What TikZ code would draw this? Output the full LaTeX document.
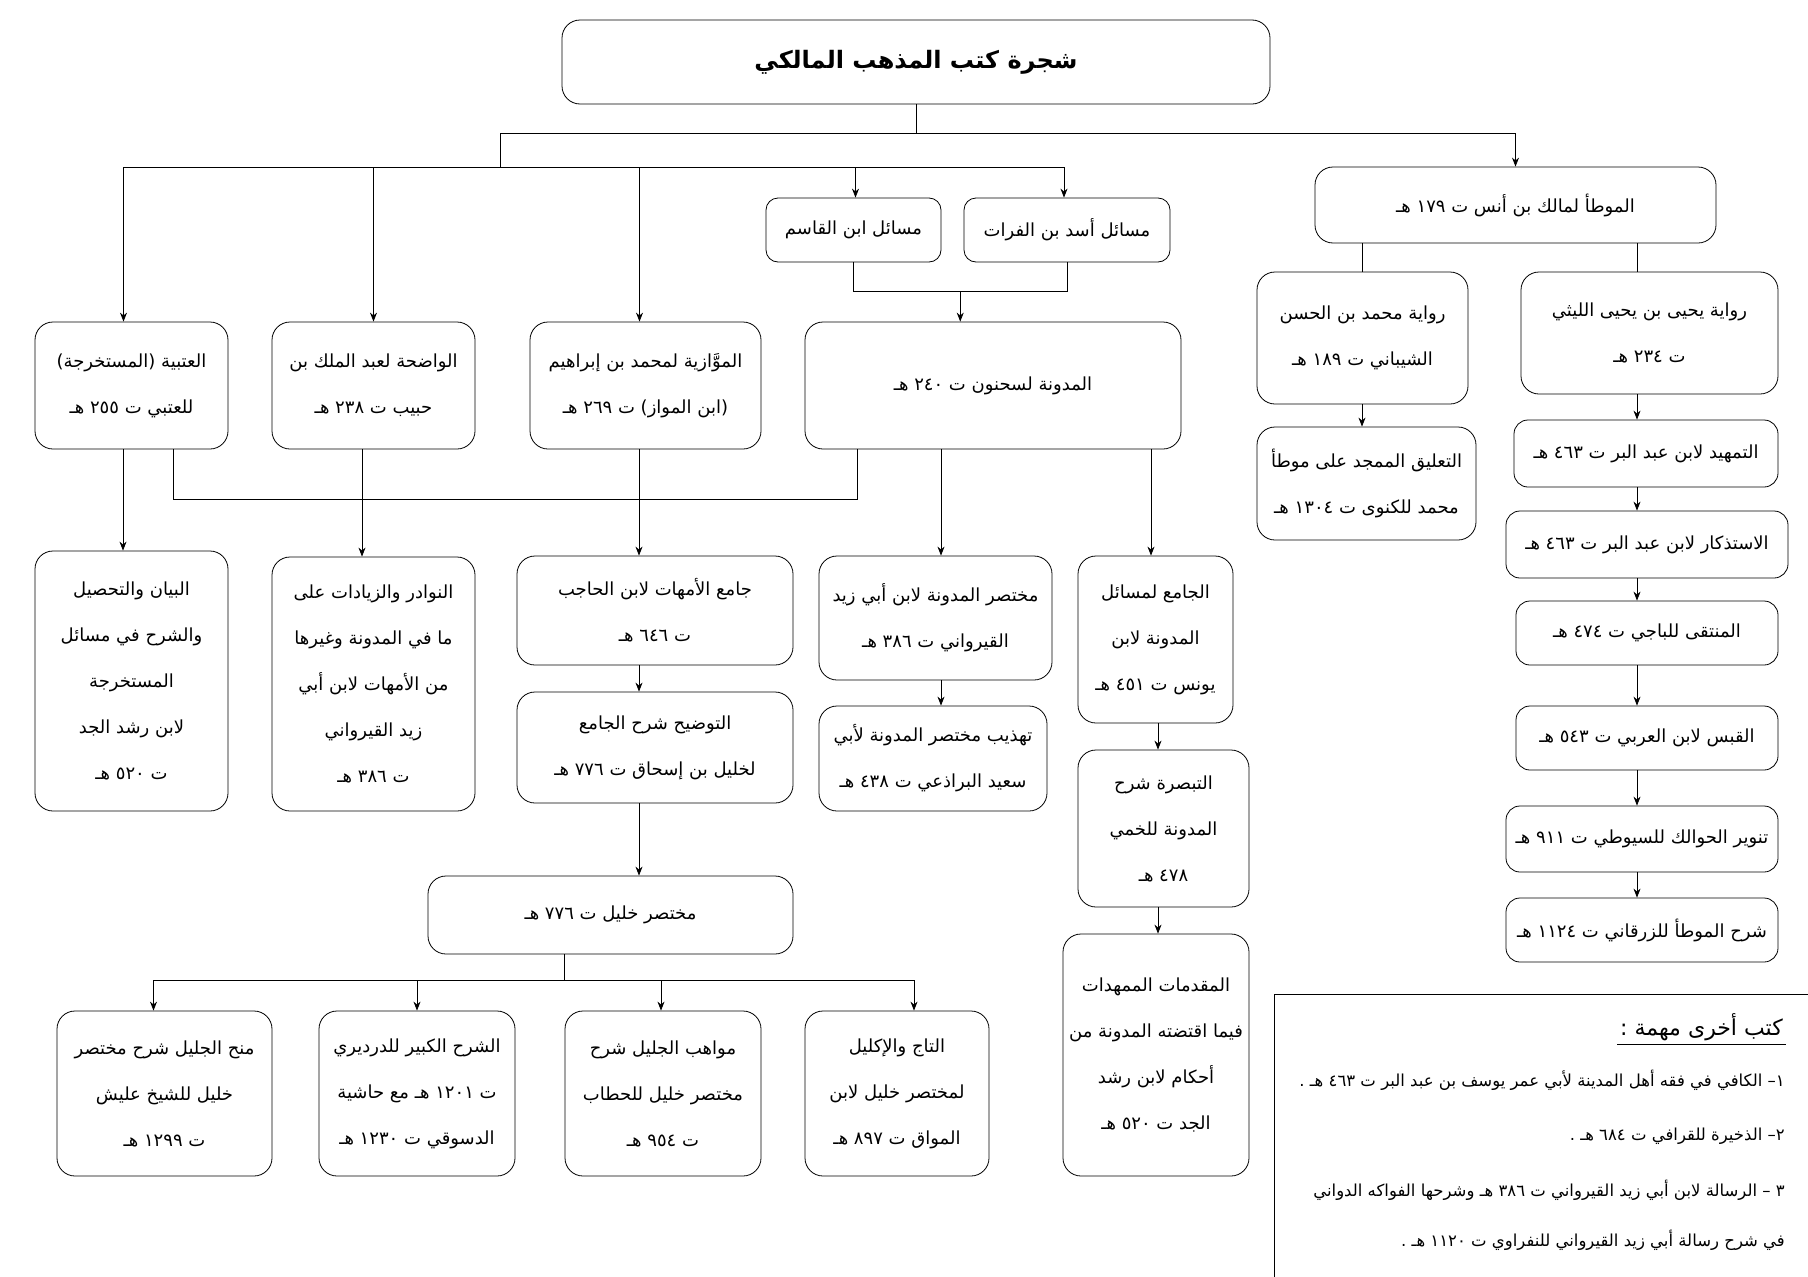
\documentclass[tikz,border=0pt]{standalone}
\usepackage{fontspec}
\newfontfamily\arabicfont[Script=Arabic]{DejaVu Sans}
\TeXXeTstate=1
\usetikzlibrary{positioning,calc,arrows.meta}
\newcommand{\artxt}[1]{\beginR #1\endR}

\tikzset{
    book/.style={draw, rounded corners=18pt, align=center, inner sep=0pt, line width=0.8pt,
        font=\arabicfont\fontsize{18}{46}\selectfont},
    bsize/.style 2 args={minimum width=#1pt, minimum height=#2pt},
    link/.style={line width=0.8pt},
    arr/.style={line width=0.8pt, -{Stealth[length=9pt, width=7pt]}},
    item/.style={inner sep=0pt, font=\arabicfont\fontsize{16.5}{20}\selectfont},
}

\begin{document}
\begin{tikzpicture}[x=1pt, y=-1pt]
    \useasboundingbox (0,0) rectangle (1808,1277);

    % columns of the connectors
    \coordinate (colU) at (123,0);
    \coordinate (colW) at (362,0);
    \coordinate (colM) at (639,0);
    \coordinate (colD) at (941,0);
    \coordinate (colJ) at (1151,0);
    \coordinate (colY) at (1158,0);
    \coordinate (colT) at (1362,0);
    \coordinate (colR) at (1637,0);
    \coordinate (fork) at (500,167);

    % top
    \node[book, bsize={708}{84}, font=\arabicfont\bfseries\fontsize{24}{30}\selectfont] (title) at (916,62)
        {\artxt{شجرة كتب المذهب المالكي}};
    \node[book, bsize={401}{76}] (muwatta) at (1515.5,205) {\artxt{الموطأ لمالك بن أنس ت ١٧٩ هـ}};
    \node[book, bsize={175}{64}, rounded corners=12pt] (masQ) at (853.5,230) {\artxt{مسائل ابن القاسم}};
    \node[book, bsize={206}{64}, rounded corners=12pt] (masA) at (1067,230) {\artxt{مسائل  أسد بن الفرات}};

    % first row
    \node[book, bsize={193}{127}] (utb) at (131.5,385.5)
        {\artxt{العتبية (المستخرجة)}\\\artxt{للعتبي ت ٢٥٥ هـ}};
    \node[book, bsize={203}{127}] (wad) at (373.5,385.5)
        {\artxt{الواضحة لعبد الملك بن}\\\artxt{حبيب ت ٢٣٨ هـ}};
    \node[book, bsize={231}{127}] (muwz) at (645.5,385.5)
        {\artxt{الموَّازية لمحمد بن إبراهيم}\\\artxt{(ابن المواز) ت ٢٦٩ هـ}};
    \node[book, bsize={376}{127}] (mud) at (993,385.5) {\artxt{المدونة لسحنون  ت  ٢٤٠ هـ}};

    % second row
    \node[book, bsize={193}{260}] (bayan) at (131.5,681)
        {\artxt{البيان والتحصيل}\\\artxt{والشرح في مسائل}\\\artxt{المستخرجة}\\\artxt{لابن رشد الجد}\\\artxt{ت ٥٢٠ هـ}};
    \node[book, bsize={203}{254}] (nawadir) at (373.5,684)
        {\artxt{النوادر والزيادات على}\\\artxt{ما في المدونة وغيرها}\\\artxt{من الأمهات لابن أبي}\\\artxt{زيد القيرواني}\\\artxt{ت ٣٨٦ هـ}};
    \node[book, bsize={276}{109}] (umm) at (655,610.5)
        {\artxt{جامع الأمهات لابن الحاجب}\\\artxt{ت ٦٤٦ هـ}};
    \node[book, bsize={276}{111}] (tawdih) at (655,747.5)
        {\artxt{التوضيح شرح الجامع}\\\artxt{لخليل بن إسحاق ت ٧٧٦ هـ}};
    \node[book, bsize={233}{124}] (mukhmud) at (935.5,618)
        {\artxt{مختصر المدونة لابن أبي زيد}\\\artxt{القيرواني ت ٣٨٦ هـ}};
    \node[book, bsize={228}{105}] (tahdhib) at (933,758.5)
        {\artxt{تهذيب مختصر المدونة لأبي}\\\artxt{سعيد البراذعي ت  ٤٣٨ هـ}};
    \node[book, bsize={155}{167}] (yunus) at (1155.5,639.5)
        {\artxt{الجامع لمسائل}\\\artxt{المدونة لابن}\\\artxt{يونس ت ٤٥١ هـ}};
    \node[book, bsize={171}{157}] (tabsira) at (1163.5,828.5)
        {\artxt{التبصرة شرح}\\\artxt{المدونة للخمي}\\\artxt{٤٧٨ هـ}};
    \node[book, bsize={186}{242}] (muqad) at (1156,1055)
        {\artxt{المقدمات الممهدات}\\\artxt{فيما اقتضته المدونة من}\\\artxt{أحكام لابن رشد}\\\artxt{الجد ت ٥٢٠ هـ}};

    % mukhtasar khalil and its commentaries
    \node[book, bsize={365}{78}] (khalil) at (610.5,915) {\artxt{مختصر خليل ت ٧٧٦  هـ}};
    \node[book, bsize={215}{165}] (minah) at (164.5,1093.5)
        {\artxt{منح الجليل شرح مختصر}\\\artxt{خليل للشيخ عليش}\\\artxt{ت ١٢٩٩ هـ}};
    \node[book, bsize={196}{165}] (kabir) at (417,1093.5)
        {\artxt{الشرح الكبير للدرديري}\\\artxt{ت  ١٢٠١ هـ مع حاشية}\\\artxt{الدسوقي  ت ١٢٣٠ هـ}};
    \node[book, bsize={196}{165}] (mawahib) at (663,1093.5)
        {\artxt{مواهب الجليل شرح}\\\artxt{مختصر خليل للحطاب}\\\artxt{ت ٩٥٤ هـ}};
    \node[book, bsize={184}{165}] (taj) at (897,1093.5)
        {\artxt{التاج والإكليل}\\\artxt{لمختصر خليل لابن}\\\artxt{المواق ت ٨٩٧ هـ}};

    % riwayat of the muwatta
    \node[book, bsize={211}{132}] (riwM) at (1362.5,338)
        {\artxt{رواية محمد بن الحسن}\\\artxt{الشيباني ت ١٨٩ هـ}};
    \node[book, bsize={257}{122}] (riwY) at (1649.5,333)
        {\artxt{رواية يحيى بن يحيى الليثي}\\\artxt{ت ٢٣٤ هـ}};
    \node[book, bsize={219}{113}] (taliq) at (1366.5,483.5)
        {\artxt{التعليق الممجد على موطأ}\\\artxt{محمد للكنوى  ت  ١٣٠٤ هـ}};
    \node[book, bsize={264}{67}, rounded corners=14pt] (tamhid) at (1646,453.5) {\artxt{التمهيد لابن عبد البر ت  ٤٦٣ هـ}};
    \node[book, bsize={282}{67}, rounded corners=14pt] (istidhkar) at (1647,544.5) {\artxt{الاستذكار لابن عبد البر ت ٤٦٣ هـ}};
    \node[book, bsize={262}{64}, rounded corners=14pt] (muntaqa) at (1647,633) {\artxt{المنتقى للباجي ت ٤٧٤ هـ}};
    \node[book, bsize={262}{64}, rounded corners=14pt] (qabas) at (1647,738) {\artxt{القبس لابن العربي ت ٥٤٣ هـ}};
    \node[book, bsize={272}{66}, rounded corners=14pt] (tanwir) at (1642,839) {\artxt{تنوير الحوالك للسيوطي ت ٩١١ هـ}};
    \node[book, bsize={272}{64}, rounded corners=14pt] (zurqani) at (1642,930) {\artxt{شرح الموطأ للزرقاني ت ١١٢٤ هـ}};

    % other books
    \draw[link] (1274,1300) -- (1274,994) -- (1830,994);
    \node[item, anchor=south east, inner sep=3pt, font=\arabicfont\fontsize{22}{24}\selectfont] (head) at (1786,1044)
        {\artxt{كتب أخرى مهمة :}};
    \draw[link] (head.south west) -- (head.south east);
    \node[item, anchor=east] (o1) at (1785,1080)
        {\artxt{١\kern0pt– الكافي في فقه أهل المدينة لأبي عمر يوسف بن عبد البر ت ٤٦٣ هـ .}};
    \node[item, anchor=east] (o2) at (1785,1136)
        {\artxt{٢\kern0pt– الذخيرة للقرافي ت  ٦٨٤ هـ .}};
    \node[item, anchor=east] (o3) at (1785,1190)
        {\artxt{٣ – الرسالة لابن أبي زيد القيرواني ت  ٣٨٦ هـ وشرحها الفواكه الدواني}};
    \node[item, anchor=east] (o4) at (1785,1240)
        {\artxt{في شرح رسالة أبي زيد القيرواني للنفراوي ت ١١٢٠ هـ .}};

    % connectors from the title
    \draw[arr] (title.south) -- ++(0,29) coordinate (split) -| (muwatta.north);
    \draw[link] (split) -| (fork);
    \draw[link] ([xshift=-8pt]utb.north |- fork) -- ([xshift=-3pt]masA.north |- fork);
    \foreach \n/\dx in {utb/-8, wad/0, muwz/-6, masQ/2, masA/-3}{
        \draw[arr] ([xshift=\dx pt]\n.north |- fork) -- ([xshift=\dx pt]\n.north);
    }
    \draw[link] (masQ.south) -- ++(0,29) coordinate (masj) -| (masA.south);
    \draw[arr] ($(masj)!0.5!(masA.south |- masj)$) coordinate (mudj) -- (mudj |- mud.north);

    % first row to second row
    \draw[arr] (colU |- utb.south) -- (colU |- bayan.north);
    \draw[link] ([xshift=42pt]utb.south) -- ++(0,50) -| ([xshift=-136pt]mud.south);
    \draw[arr] (colW |- wad.south) -- (colW |- nawadir.north);
    \draw[arr] (colM |- muwz.south) -- (colM |- umm.north);
    \draw[arr] (colM |- umm.south) -- (colM |- tawdih.north);
    \draw[arr] (colM |- tawdih.south) -- (colM |- khalil.north);
    \draw[arr] (colD |- mud.south) -- (colD |- mukhmud.north);
    \draw[arr] (colD |- mukhmud.south) -- (colD |- tahdhib.north);
    \draw[arr] (colJ |- mud.south) -- (colJ |- yunus.north);
    \draw[arr] (colY |- yunus.south) -- (colY |- tabsira.north);
    \draw[arr] (colY |- tabsira.south) -- (colY |- muqad.north);

    % commentaries of khalil
    \draw[link] ([xshift=-46pt]khalil.south) -- ++(0,26) coordinate (kfork);
    \draw[link] ([xshift=-11pt]minah.north |- kfork) -- ([xshift=17pt]taj.north |- kfork);
    \foreach \n/\dx in {minah/-11, kabir/0, mawahib/-2, taj/17}{
        \draw[arr] ([xshift=\dx pt]\n.north |- kfork) -- ([xshift=\dx pt]\n.north);
    }

    % muwatta branch
    \draw[link] (colT |- muwatta.south) -- (colT |- riwM.north);
    \draw[link] (colR |- muwatta.south) -- (colR |- riwY.north);
    \draw[arr] (colT |- riwM.south) -- (colT |- taliq.north);
    \foreach \a/\b in {riwY/tamhid, tamhid/istidhkar, istidhkar/muntaqa, muntaqa/qabas, qabas/tanwir, tanwir/zurqani}{
        \draw[arr] (colR |- \a.south) -- (colR |- \b.north);
    }
\end{tikzpicture}
\end{document}
